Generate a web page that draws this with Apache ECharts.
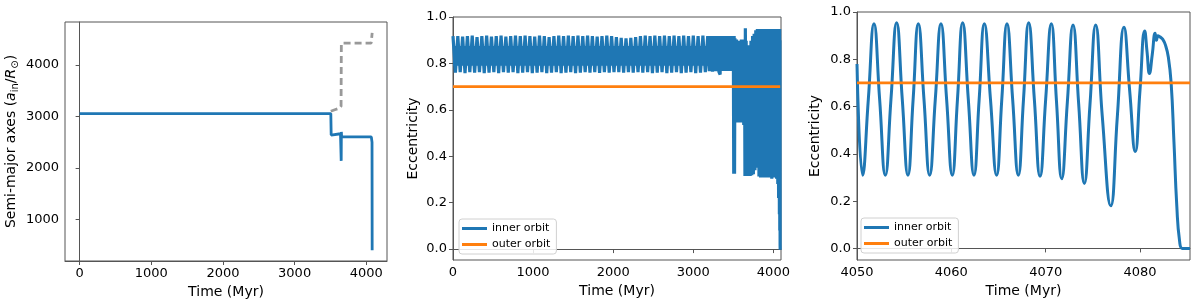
<!DOCTYPE html>
<html><head><meta charset="utf-8">
<script src="https://cdn.jsdelivr.net/npm/echarts@6/dist/echarts.min.js"></script>
<style>html,body{margin:0;padding:0;background:#fff}#c{width:1200px;height:304px}</style>
</head><body><div id="c"></div><script>
// ---- data ----
const semiInner = [[0,3055],[3505,3055],[3510,2640],[3640,2665],[3648,2700],[3650,2140],[3652,2700],[3656,2605],[4070,2605],[4078,2580],[4080,2500],[4082,410]];
const semiOuter = [[3505,3100],[3560,3130],[3625,3160],[3648,3200],[3652,4420],[4068,4420],[4078,4440],[4082,4620]];

const midInner = [
[0,0.918],[30,0.76],[60,0.918],[90,0.762],[120,0.916],[150,0.758],[180,0.918],[210,0.762],[240,0.92],[270,0.76],
[300,0.913],[330,0.762],[360,0.918],[390,0.758],[420,0.92],[450,0.76],[480,0.916],[510,0.762],[540,0.918],[570,0.758],
[600,0.92],[630,0.762],[660,0.915],[690,0.76],[720,0.918],[750,0.762],[780,0.92],[810,0.758],[840,0.918],[870,0.76],
[900,0.92],[930,0.762],[960,0.918],[990,0.758],[1020,0.916],[1050,0.76],[1080,0.92],[1110,0.762],[1140,0.918],[1170,0.758],
[1200,0.913],[1230,0.76],[1260,0.918],[1290,0.762],[1320,0.92],[1350,0.758],[1380,0.918],[1410,0.76],[1440,0.92],[1470,0.762],
[1500,0.918],[1530,0.758],[1560,0.92],[1590,0.76],[1620,0.918],[1650,0.762],[1680,0.92],[1710,0.76],[1740,0.918],[1770,0.762],
[1800,0.916],[1830,0.759],[1860,0.918],[1890,0.762],[1920,0.92],[1950,0.76],[1980,0.918],[2010,0.762],[2040,0.913],[2070,0.762],
[2100,0.91],[2130,0.76],[2160,0.908],[2190,0.762],[2220,0.91],[2250,0.76],[2280,0.913],[2310,0.762],[2340,0.918],[2370,0.76],
[2400,0.92],[2430,0.762],[2460,0.918],[2490,0.758],[2520,0.92],[2550,0.76],[2580,0.918],[2610,0.762],[2640,0.92],[2670,0.758],
[2700,0.918],[2730,0.76],[2760,0.92],[2790,0.762],[2820,0.918],[2850,0.758],[2880,0.92],[2910,0.76],[2940,0.918],[2970,0.762],
[3000,0.92],[3030,0.758],[3060,0.918],[3090,0.76],[3120,0.92],[3150,0.762],[3180,0.918],
[3200,0.767],[3220,0.918],[3240,0.764],[3260,0.918],[3280,0.767],[3300,0.918],[3320,0.764],[3335,0.752],[3340,0.918],
[3350,0.767],[3360,0.918],[3370,0.767],[3380,0.918],[3390,0.77],[3400,0.918],[3410,0.767],[3420,0.918],[3430,0.767],
[3440,0.918],[3450,0.767],[3460,0.918],[3470,0.767],[3480,0.918],[3490,0.767],[3500,0.918],
[3505,0.325],[3510,0.918],[3515,0.325],[3520,0.908],[3530,0.545],[3540,0.903],[3550,0.545],[3560,0.898],[3570,0.545],[3580,0.898],
[3590,0.545],[3600,0.903],[3610,0.545],[3620,0.903],[3630,0.535],[3640,0.903],[3645,0.315],[3650,0.952],[3655,0.315],[3660,0.898],
[3670,0.315],[3680,0.865],[3690,0.315],[3700,0.878],[3710,0.315],[3720,0.898],[3730,0.318],[3740,0.918],[3750,0.322],[3760,0.928],
[3770,0.34],[3780,0.943],[3790,0.35],[3800,0.948],[3810,0.403],[3815,0.948],[3820,0.313],[3830,0.948],[3840,0.308],[3850,0.948],
[3860,0.313],[3870,0.948],[3880,0.308],[3890,0.948],[3900,0.313],[3910,0.948],[3915,0.308],[3920,0.87],[3925,0.313],[3930,0.948],
[3940,0.308],[3950,0.948],[3960,0.313],[3970,0.948],[3980,0.303],[3990,0.948],[4000,0.313],[4010,0.948],[4020,0.308],[4030,0.948],
[4040,0.303],[4050,0.948],[4055,0.28],[4060,0.948],[4065,0.22],[4070,0.948],[4075,0.15],[4078,0.948],[4080,0.08],[4082,0.9],
[4084,0.02],[4085,-0.003]
];
// solid core of the rapidly oscillating band (start, end, lower, upper)
const midCore = [0, 3500, 0.79, 0.875];
const midOuter = [[0,0.70],[4085,0.70]];

const zoomInner = [
[4050.0,0.78],[4050.6,0.31],[4051.2,0.63],[4051.8,0.95],[4052.4,0.63],[4053.0,0.31],[4053.6,0.63],[4054.2,0.955],
[4054.8,0.63],[4055.4,0.31],[4055.95,0.63],[4056.5,0.95],[4057.1,0.63],[4057.7,0.31],[4058.3,0.63],[4058.9,0.95],
[4059.5,0.63],[4060.1,0.31],[4060.65,0.63],[4061.2,0.955],[4061.8,0.63],[4062.4,0.31],[4062.95,0.63],[4063.5,0.95],
[4064.15,0.63],[4064.8,0.31],[4065.35,0.63],[4065.9,0.95],[4066.5,0.63],[4067.1,0.31],[4067.65,0.63],[4068.2,0.955],
[4068.8,0.63],[4069.4,0.305],[4070.0,0.63],[4070.6,0.95],[4071.15,0.62],[4071.7,0.295],[4072.3,0.62],[4072.9,0.945],
[4073.5,0.61],[4074.1,0.275],[4074.7,0.61],[4075.3,0.945],[4076.0,0.56],[4076.9,0.18],[4077.6,0.56],[4078.3,0.935],
[4078.9,0.67],[4079.5,0.41],[4080.0,0.67],[4080.5,0.92],[4080.75,0.83],[4081.0,0.74],[4081.3,0.82],[4081.6,0.91],
[4081.75,0.88],[4081.9,0.9],[4082.1,0.895],[4082.4,0.885],[4082.7,0.86],[4083.0,0.81],[4083.3,0.70],[4083.6,0.45],
[4083.9,0.18],[4084.2,0.03],[4084.5,0.0],[4085.3,0.0]
];
const zoomOuter = [[4050,0.70],[4085.3,0.70]];

const leftXTicks = [0,1000,2000,3000,4000];
const leftYTicks = [1000,2000,3000,4000];
const eccTicks = [0,0.2,0.4,0.6,0.8,1.0];
const midXTicks = [0,1000,2000,3000,4000];
const zoomXTicks = [4050,4060,4070,4080];

// ---- chart ----
const FONT = 'DejaVu Sans';
const AX = '#555';
const BLUE = '#1f77b4', ORANGE = '#ff7f0e', GRAY = '#999999';

function xAx(idx, min, max, ticks, fmt) {
  return {
    type: 'value', gridIndex: idx, min: min, max: max,
    name: 'Time (Myr)', nameLocation: 'middle', nameGap: 20,
    nameTextStyle: { fontFamily: FONT, fontSize: 14, color: '#000' },
    axisLine: { show: true, lineStyle: { color: AX, width: 1 } },
    axisTick: { show: true, length: 4, lineStyle: { color: AX }, customValues: ticks },
    axisLabel: { fontFamily: FONT, fontSize: 13, color: '#000', margin: 6, customValues: ticks, formatter: fmt || (v => String(v)) },
    splitLine: { show: false }
  };
}
function yAx(idx, min, max, ticks, name, gap, fmt, rich) {
  const ns = { fontFamily: FONT, fontSize: 14, color: '#000' };
  if (rich) ns.rich = rich;
  return {
    type: 'value', gridIndex: idx, min: min, max: max,
    name: name, nameLocation: 'middle', nameGap: gap, nameRotate: 90,
    nameTextStyle: ns,
    axisLine: { show: true, lineStyle: { color: AX, width: 1 } },
    axisTick: { show: true, length: 4, lineStyle: { color: AX }, customValues: ticks },
    axisLabel: { fontFamily: FONT, fontSize: 13, color: '#000', margin: 6, customValues: ticks, formatter: fmt || (v => String(v)) },
    splitLine: { show: false }
  };
}
const f1 = v => v.toFixed(1);

function legend(left, top) {
  return {
    left: left, top: top, orient: 'vertical',
    data: ['inner orbit', 'outer orbit'],
    icon: 'rect', itemWidth: 25, itemHeight: 3, itemGap: 3,
    padding: [3, 6, 3, 3],
    borderColor: '#d0d0d0', borderWidth: 1, borderRadius: 3,
    backgroundColor: 'rgba(255,255,255,0.85)',
    textStyle: { fontFamily: FONT, fontSize: 11, color: '#000', lineHeight: 13 },
    selectedMode: false
  };
}

const lineS = (name, xi, data, color, width, extra) => Object.assign({
  type: 'line', name: name, xAxisIndex: xi, yAxisIndex: xi, data: data,
  showSymbol: false, symbol: 'none', animation: false,
  lineStyle: { color: color, width: width }, itemStyle: { color: color }
}, extra || {});

const option = {
  animation: false,
  grid: [
    { left: 65, top: 22, width: 322, height: 239, show: true, borderColor: AX, borderWidth: 1 },
    { left: 453, top: 17, width: 328, height: 243, show: true, borderColor: AX, borderWidth: 1 },
    { left: 857, top: 12, width: 333, height: 248, show: true, borderColor: AX, borderWidth: 1 }
  ],
  xAxis: [
    xAx(0, -204, 4289, leftXTicks),
    xAx(1, 0, 4095, midXTicks),
    xAx(2, 4050, 4085.3, zoomXTicks)
  ],
  yAxis: [
    yAx(0, 200, 4830, leftYTicks, 'Semi-major axes ({i|a}{sub|in}/{i|R}{sub|⊙})', 45, null,
      { i: { fontFamily: FONT, fontSize: 14, fontStyle: 'italic', color: '#000', lineHeight: 17 },
        sub: { fontFamily: FONT, fontSize: 10, color: '#000', verticalAlign: 'bottom', lineHeight: 10 } }),
    yAx(1, -0.047, 1.0, eccTicks, 'Eccentricity', 33, f1),
    yAx(2, -0.049, 1.0, eccTicks, 'Eccentricity', 35, f1)
  ],
  legend: [ legend(459, 219), legend(861, 218) ],
  series: [
    lineS('semi-inner', 0, semiInner, BLUE, 2.8),
    lineS('semi-outer', 0, semiOuter, GRAY, 2.8, { lineStyle: { color: GRAY, width: 2.8, type: [7, 4] } }),
    lineS('inner orbit', 1, midInner, BLUE, 3.2, {
      markArea: {
        silent: true, itemStyle: { color: BLUE, opacity: 1 }, label: { show: false },
        data: [[{ xAxis: midCore[0], yAxis: midCore[2] }, { xAxis: midCore[1], yAxis: midCore[3] }]]
      }
    }),
    lineS('outer orbit', 1, midOuter, ORANGE, 2.8),
    lineS('inner orbit', 2, zoomInner, BLUE, 3, { smooth: 0.5 }),
    lineS('outer orbit', 2, zoomOuter, ORANGE, 2.8)
  ]
};
const chart = echarts.init(document.getElementById('c'), null, { renderer: 'canvas' });
chart.setOption(option);
</script></body></html>
